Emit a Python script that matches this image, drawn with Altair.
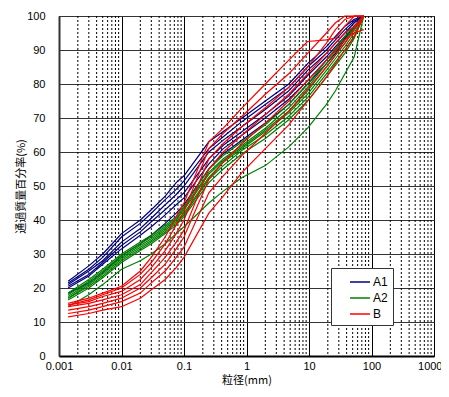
import altair as alt
import pandas as pd

# Particle sizes (mm) at which each curve is sampled
X = [0.0014, 0.003, 0.005, 0.01, 0.02, 0.03, 0.05, 0.075, 0.1, 0.25,
     0.425, 0.85, 2, 4.75, 9.5, 19, 26.5, 37.5, 53, 75]

A1 = [
    [22, 26.5, 30, 36, 40, 43, 47, 51, 53, 63, 66, 70, 75, 80, 86, 91, 94, 97, 99, 100],
    [21.5, 25.5, 29, 35, 39, 42, 46, 49, 51.5, 61, 64.5, 69, 74, 79, 85, 90, 93, 96, 98.5, 100],
    [21, 25, 28, 33.5, 37.5, 40.5, 44.5, 47.5, 50, 60, 63.5, 67.5, 72.5, 78, 84, 89, 92, 95, 98, 100],
    [20.5, 24, 27.5, 32.5, 36.5, 39.5, 43, 46, 48, 58, 62, 66, 71, 76.5, 82.5, 88, 91, 94, 97, 100],
    [20, 23.5, 27, 31.5, 35.5, 38, 41.5, 44.5, 46.5, 56.5, 61, 65, 70, 75.5, 81, 87, 90, 93.5, 97, 100],
    [18.5, 21.5, 24.5, 29.5, 33, 35.5, 39, 42, 44.5, 55, 59.5, 63.5, 68.5, 74, 80, 86, 89, 93, 96.5, 100],
]
A2 = [
    [18.5, 22.5, 25.5, 30, 33.5, 35.5, 38.5, 41, 44, 55, 59, 63, 68, 74, 80, 87, 90.5, 94, 97, 100],
    [18, 22, 25, 29.5, 33, 35, 38, 40.5, 43.5, 54, 58, 62, 67, 73, 79, 86, 89.5, 93, 96.5, 100],
    [17.5, 21.5, 24.5, 29, 32.5, 34.5, 37.5, 40, 43, 53.5, 57.5, 61.5, 66.5, 72, 78, 85, 88.5, 92, 96, 100],
    [17, 21, 24, 28.5, 32, 34, 37, 39.5, 42, 52.5, 57, 61, 66, 71.5, 77, 84, 87.5, 91, 95, 100],
    [17, 20.5, 23.5, 28, 31.5, 33.5, 36.5, 39, 41.5, 52, 56, 60.5, 65, 70.5, 76, 83, 86.5, 90, 94, 100],
    [16.5, 20, 23, 27.5, 31, 33, 36, 38.5, 41, 51, 55, 59.5, 64, 69.5, 75, 82, 85.5, 89, 93.5, 100],
    [14.5, 18, 21, 25.5, 28, 30, 33, 36, 38, 45, 48.5, 52.5, 56, 61.5, 67, 74, 78, 83, 88, 100],
]
B = [
    [15.5, 17, 18.5, 20.5, 25, 29, 35, 41, 45, 63, 67, 73, 80, 87, 92.5, 93, 93.5, 97, 100, 100],
    [15, 16.5, 18, 20, 24, 27.5, 33, 38.5, 42.5, 61, 65.5, 70.5, 77, 83, 89, 95, 98, 100, 100, 100],
    [15, 16, 17.5, 19, 22.5, 26, 31, 36, 40, 58, 62.5, 67.5, 73, 79, 85, 92, 96, 99, 100, 100],
    [14.5, 15.5, 16.5, 18, 21, 24.5, 29, 33.5, 37, 55, 60, 65, 71, 77, 83, 89, 92, 95, 97, 100],
    [13.5, 14.5, 15.5, 17, 20, 23, 27, 31.5, 35, 52, 57, 62.5, 68.5, 75, 81, 87, 90, 93, 95, 96],
    [12.5, 13.5, 14.5, 16, 18.5, 21.5, 25, 29, 32, 48, 53, 59, 65.5, 72, 78.5, 85, 88.5, 92, 96, 100],
    [11.5, 12.5, 13.5, 14.5, 17, 19.5, 22.5, 26, 29, 42, 47, 54, 61, 68, 75, 82, 86, 90, 94, 100],
]

GROUPS = ["A1", "A2", "B"]
COLORS = ["#000080", "#008000", "#ff0000"]
MAJOR = [0.001, 0.01, 0.1, 1, 10, 100, 1000]
MINOR = [m * d for d in [0.001, 0.01, 0.1, 1, 10, 100] for m in range(2, 10)]
YTICKS = list(range(0, 101, 10))

rows = []
for grp, lines in zip(GROUPS, [A1, A2, B]):
    for i, ys in enumerate(lines):
        for x, y in zip(X, ys):
            rows.append({"x": x, "y": y, "group": grp, "line": f"{grp}_{i}"})
df = pd.DataFrame(rows)

xscale = alt.Scale(type="log", domain=[0.001, 1000], nice=False)
yscale = alt.Scale(domain=[0, 100], nice=False)

xaxis = alt.Axis(values=MAJOR, format="~g", title="粒径(mm)",
                 grid=True, gridColor="black", gridOpacity=1,
                 ticks=False, labelPadding=4, titlePadding=3,
                 labelFont="Liberation Sans", labelFontSize=11,
                 labelColor="black", labelFlush=False,
                 labelAlign=alt.ExprRef(expr="datum.value >= 1000 ? 'right' : 'center'"),
                 labelOffset=alt.ExprRef(expr="datum.value >= 1000 ? 8 : 0"),
                 titleFont="Noto Sans CJK JP", titleFontSize=11,
                 titleFontWeight="normal", titleColor="black",
                 domainColor="black", domainWidth=2)

minor_rules = alt.Chart(pd.DataFrame({"x": MINOR})).mark_rule(
    color="black", strokeDash=[2, 2], strokeWidth=1
).encode(x=alt.X("x:Q", scale=xscale, axis=xaxis))

lines = alt.Chart(df).mark_line(strokeWidth=1.2).encode(
    x=alt.X("x:Q", scale=xscale, axis=xaxis),
    y=alt.Y("y:Q", scale=yscale,
            axis=alt.Axis(values=YTICKS, title="通過質量百分率(%)",
                          grid=True, gridColor="#333", gridOpacity=1,
                          ticks=False, labelPadding=14, titlePadding=0,
                          labelFont="Liberation Sans", labelFontSize=11,
                          labelColor="black", labelFlush=False,
                          titleFont="Noto Sans CJK JP", titleFontSize=11,
                          titleFontWeight="normal", titleColor="black",
                          domainColor="#333", domainWidth=2)),
    color=alt.Color("group:N", scale=alt.Scale(domain=GROUPS, range=COLORS),
                    legend=alt.Legend(orient="none", legendX=272, legendY=252,
                                      title=None, symbolType="M-1.25,0H1.25",
                                      symbolSize=256, symbolStrokeWidth=1.5,
                                      strokeColor="#333", fillColor="white",
                                      padding=5, symbolOffset=15, rowPadding=1,
                                      labelFont="Liberation Sans", labelFontSize=12,
                                      labelColor="black",
                                      labelExpr="datum.label + '   '")),
    detail="line:N",
)

chart = alt.layer(minor_rules, lines).properties(
    width=375, height=340,
    autosize=alt.AutoSizeParams(type="none"),
    padding={"left": 51, "top": 8, "right": 7, "bottom": 33},
).configure_view(stroke="black", strokeWidth=1)

chart.save("out.html", embed_options={"renderer": "svg", "actions": False})
